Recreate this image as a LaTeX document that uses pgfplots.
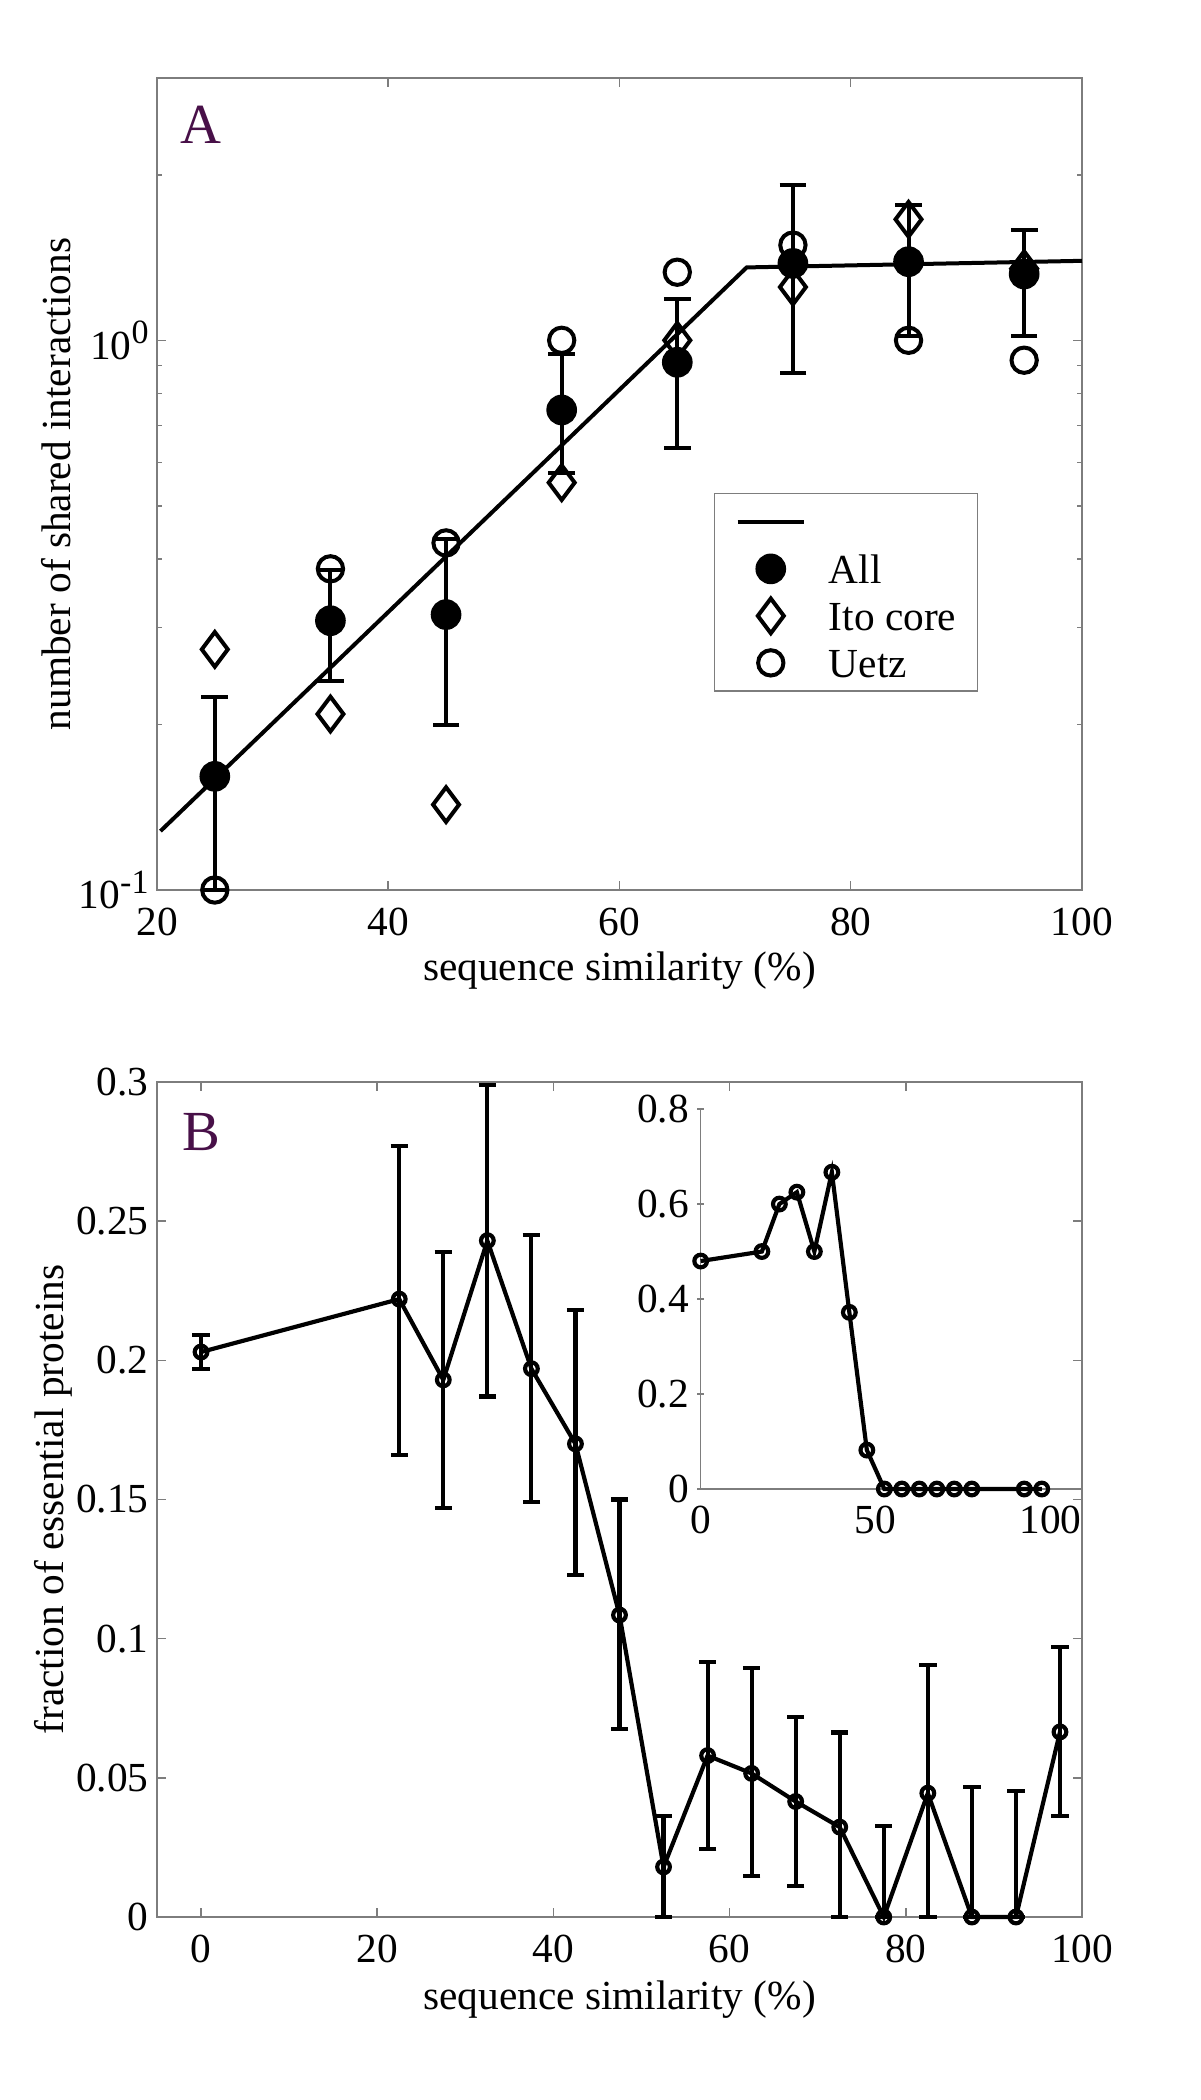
\documentclass[border=0pt]{standalone}
\usepackage{fontspec}
\setmainfont{Liberation Serif}
\usepackage{pgfplots}
\usepackage{pgfplotstable}
\pgfplotsset{compat=1.18}
\definecolor{axgray}{RGB}{125,125,125}
\definecolor{lblpurple}{RGB}{72,16,72}
\newcommand\lblfont{\rmfamily\fontsize{12.4}{14}\selectfont}
\newcommand\myexp[1]{\raisebox{4.6pt}{\fontsize{10.2}{11}\selectfont #1}}

\pgfplotstableread{
x y ep em
25 0.161 0.063 0.061
35 0.309 0.073 0.069
45 0.317 0.118 0.117
55 0.747 0.197 0.174
65 0.912 0.278 0.274
75 1.38 0.54 0.509
85 1.39 0.37 0.37
95 1.32 0.27 0.30
}\allA

\pgfplotstableread{
x y
25 0.274
35 0.209
45 0.143
55 0.551
65 1.0
75 1.25
85 1.66
95 1.35
}\itoA

\pgfplotstableread{
x y
25 0.100
35 0.384
45 0.428
55 1.0
65 1.33
75 1.49
85 1.0
95 0.92
}\uetzA

\pgfplotstableread{
x y
20.3 0.128
71.0 1.357
100 1.395
}\fitA

\pgfplotstableread{
x y ep em
0 0.203 0.006 0.006
22.5 0.222 0.055 0.056
27.5 0.193 0.046 0.046
32.5 0.243 0.056 0.056
37.5 0.197 0.048 0.048
42.5 0.170 0.048 0.047
47.5 0.1085 0.0415 0.041
52.5 0.018 0.0184 0.018
57.5 0.058 0.0336 0.0336
62.5 0.0516 0.038 0.037
67.5 0.0415 0.0304 0.0303
72.5 0.0323 0.034 0.0323
77.5 0 0.0327 0
82.5 0.0445 0.046 0.0445
87.5 0 0.0468 0
92.5 0 0.0453 0
97.5 0.0665 0.0304 0.0301
}\dataB

\pgfplotstableread{
x y
0 0.48
17.5 0.50
22.5 0.60
27.5 0.625
32.5 0.50
37.5 0.667
42.5 0.372
47.5 0.082
52.5 0
57.5 0
62.5 0
67.5 0
72.5 0
77.5 0
92.5 0
97.5 0
}\inset

\pgfplotsset{
  base/.style={
    scale only axis, clip=false,
    font=\lblfont,
    tick label style={font=\lblfont},
    label style={font=\lblfont},
    axis line style={-, axgray, line width=0.45pt},
    tick style={axgray, line width=0.45pt},
    tick align=inside,
    major tick length=2.7pt, minor tick length=1.5pt,
    /pgf/number format/assume math mode=true,
    xticklabel style={yshift=-1.9pt},
    yticklabel style={xshift=1pt},
    xlabel style={at={(axis description cs:0.5,-0.111)}, anchor=base},
  },
  lineimg/.style={legend image code/.code={%
      \draw[##1] (0cm,0cm) -- (0.7cm,0cm);}},
  markimg/.style={legend image code/.code={%
      \draw[only marks,##1] plot coordinates {(0.35cm,0cm)};}},
}

\begin{document}
\begin{tikzpicture}
\useasboundingbox (0,0) rectangle (360pt,-630pt);

% ---------------- Panel A ----------------
\begin{axis}[base,
  at={(47.1pt,-267pt)}, anchor=south west,
  width=277.5pt, height=243.6pt,
  xmin=20, xmax=100, ymode=log, ymin=0.1, ymax=3,
  xtick={20,40,60,80,100},
  ytick={0.1,1},
  yticklabels={10\myexp{-1},10\myexp{0}},
  minor ytick={0.2,0.3,0.4,0.5,0.6,0.7,0.8,0.9,2,3},
  xlabel={sequence similarity (\%)},
  ylabel={number of shared interactions},
  ylabel style={at={(axis description cs:-0.093,0.5)}, anchor=base},
  legend style={at={(0.602,0.489)}, anchor=north west, draw=axgray,
    line width=0.45pt, fill=white, inner xsep=6.3pt, inner ysep=1.4pt,
    row sep=0pt, column sep=6.9pt, font=\lblfont,
    nodes={inner sep=0pt, text height=11.35pt, text depth=2.75pt},
    cells={anchor=west}},
]
\addplot[black, line width=1.2pt, lineimg] table[x=x,y=y]{\fitA};
\addlegendentry{\mbox{}}
\addplot[black, only marks, mark=*, mark size=4pt, line width=1.2pt,
  mark options={fill=black}, markimg,
  error bars/.cd, y dir=both, y explicit,
  error bar style={line width=1.2pt, black},
  error mark options={rotate=90, line width=1.2pt, mark size=4pt, black}]
  table[x=x,y=y,y error plus=ep,y error minus=em]{\allA};
\addlegendentry{All}
\addplot[black, only marks, mark=diamond, mark size=5.2pt, line width=1.2pt, markimg]
  table[x=x,y=y]{\itoA};
\addlegendentry{Ito core}
\addplot[black, only marks, mark=o, mark size=3.8pt, line width=1.2pt, markimg]
  table[x=x,y=y]{\uetzA};
\addlegendentry{Uetz}
\end{axis}

% ---------------- Panel B ----------------
\begin{axis}[base,
  at={(47.1pt,-575.1pt)}, anchor=south west,
  width=277.5pt, height=250.5pt,
  xmin=-5, xmax=100, ymin=0, ymax=0.3,
  xtick={0,20,40,60,80,100},
  ytick={0,0.05,0.1,0.15,0.2,0.25,0.3},
  yticklabels={0,0.05,0.1,0.15,0.2,0.25,0.3},
  xlabel={sequence similarity (\%)},
  ylabel={fraction of essential proteins},
  ylabel style={at={(axis description cs:-0.1016,0.5)}, anchor=base},
]
\addplot[black, line width=1.25pt, mark=o, mark size=1.9pt,
  error bars/.cd, y dir=both, y explicit,
  error bar style={line width=1.25pt, black},
  error mark options={rotate=90, line width=1.25pt, mark size=2.6pt, black}]
  table[x=x,y=y,y error plus=ep,y error minus=em]{\dataB};
\end{axis}

% ---------------- Inset ----------------
\begin{axis}[base,
  at={(210.2pt,-446.7pt)}, anchor=south west,
  width=114.4pt, height=114pt,
  xmin=0, xmax=109, ymin=0, ymax=0.8,
  axis x line=bottom, axis y line=left,
  axis line style={-},
  xtick={0,50,100},
  xtick style={draw=none},
  ytick={0,0.2,0.4,0.6,0.8},
  yticklabels={0,0.2,0.4,0.6,0.8},
  major tick length=2pt,
  xticklabel style={yshift=1.2pt},
]
\addplot[black, line width=1.25pt, mark=o, mark size=1.9pt] table[x=x,y=y]{\inset};
\end{axis}

\node[anchor=base west, inner sep=0pt, text=lblpurple, font=\rmfamily\fontsize{17}{17}\selectfont] at (53.8pt,-42.9pt) {A};
\node[anchor=base west, inner sep=0pt, text=lblpurple, font=\rmfamily\fontsize{17}{17}\selectfont] at (54.6pt,-345pt) {B};
\end{tikzpicture}
\end{document}
